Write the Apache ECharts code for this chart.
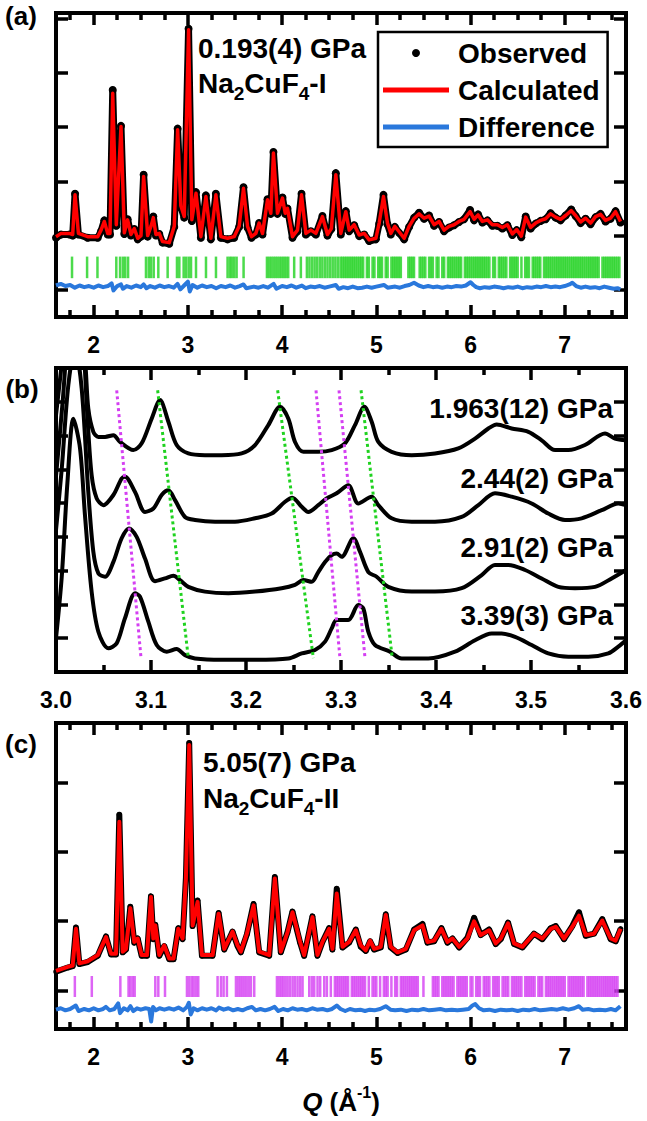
<!DOCTYPE html>
<html>
<head>
<meta charset="utf-8">
<script src="https://cdn.jsdelivr.net/npm/echarts@6/dist/echarts.min.js"></script>
<style>
html,body{margin:0;padding:0;background:#fff;}
#chart{width:647px;height:1121px;}
</style>
</head>
<body>
<div id="chart"></div>
<script>
const FONT = '"Liberation Sans", Arial, Helvetica, sans-serif';

// ---------- Panel (a): Na2CuF4-I, 0.193(4) GPa ----------
const qA = [
  1.600,1.654,1.742,1.777,1.802,1.838,1.936,2.043,2.078,2.113,
  2.149,2.173,2.202,2.240,2.290,2.325,2.360,2.396,2.431,2.467,
  2.502,2.530,2.573,2.608,2.633,2.661,2.696,2.731,2.802,2.855,
  2.891,2.925,2.961,3.007,3.042,3.086,3.138,3.191,3.244,3.297,
  3.350,3.421,3.491,3.544,3.590,3.633,3.675,3.721,3.756,3.792,
  3.845,3.880,3.908,3.951,4.004,4.033,4.057,4.110,4.163,4.206,
  4.252,4.305,4.358,4.428,4.481,4.523,4.570,4.623,4.676,4.712,
  4.765,4.818,4.871,4.924,4.995,5.030,5.076,5.118,5.154,5.196,
  5.242,5.295,5.348,5.401,5.454,5.507,5.560,5.613,5.666,5.719,
  5.772,5.825,5.878,5.931,5.995,6.038,6.080,6.126,6.179,6.232,
  6.285,6.338,6.391,6.444,6.490,6.539,6.585,6.638,6.691,6.744,
  6.797,6.850,6.903,6.956,7.009,7.069,7.115,7.168,7.221,7.274,
  7.327,7.380,7.433,7.486,7.539,7.592
];
const calcA = [
  0.98,1.04,1.04,1.02,1.75,1.04,0.98,0.98,1.10,1.26,
  1.04,1.04,3.62,1.20,3.01,1.05,1.29,1.02,1.13,0.95,
  1.00,2.09,1.00,1.17,1.33,1.02,1.04,0.89,0.87,1.17,
  2.95,1.55,1.35,4.79,1.29,1.78,0.98,1.72,0.95,1.75,
  0.98,0.95,0.98,1.17,1.87,1.17,0.98,1.04,1.23,1.04,
  1.66,1.41,2.52,1.41,1.69,1.41,1.50,0.98,1.10,1.75,
  1.04,1.10,1.04,1.35,1.02,1.13,2.12,1.04,1.44,1.10,
  1.20,1.01,1.04,0.92,0.95,1.23,1.72,1.23,1.04,1.17,
  1.07,0.95,1.17,1.32,1.40,1.32,1.36,1.20,1.26,1.10,
  1.17,1.20,1.26,1.30,1.44,1.30,1.38,1.26,1.29,1.20,
  1.20,1.15,1.20,1.03,1.11,0.99,1.34,1.15,1.23,1.28,
  1.31,1.40,1.34,1.30,1.37,1.46,1.37,1.25,1.32,1.23,
  1.35,1.39,1.28,1.32,1.44,1.26
];
const obsA = [
  0.96,1.02,1.02,1.00,1.77,1.02,0.96,0.96,1.08,1.28,
  1.02,1.02,3.68,1.18,3.02,1.03,1.30,1.00,1.12,0.93,
  0.98,2.12,0.98,1.16,1.35,1.00,1.03,0.87,0.85,1.16,
  2.97,1.53,1.33,4.81,1.27,1.80,0.96,1.74,0.93,1.77,
  0.96,0.93,0.96,1.16,1.89,1.15,0.96,1.02,1.23,1.02,
  1.67,1.40,2.54,1.40,1.70,1.40,1.50,0.96,1.08,1.77,
  1.02,1.08,1.02,1.36,1.00,1.12,2.15,1.02,1.45,1.08,
  1.19,0.99,1.02,0.90,0.93,1.22,1.75,1.21,1.02,1.16,
  1.05,0.93,1.16,1.33,1.42,1.31,1.37,1.18,1.25,1.08,
  1.15,1.19,1.25,1.30,1.47,1.28,1.39,1.24,1.28,1.18,
  1.18,1.13,1.19,1.01,1.10,0.97,1.35,1.13,1.22,1.27,
  1.30,1.41,1.33,1.28,1.37,1.48,1.36,1.23,1.31,1.21,
  1.34,1.40,1.26,1.31,1.45,1.24
];
const diffA = [
  [1.60,0.08],[1.65,0.11],[1.70,0.07],[1.75,0.09],[1.80,0.04],[1.85,0.08],[1.90,0.05],[1.95,0.07],[2.00,0.04],[2.05,0.08],
  [2.10,0.05],[2.15,0.07],[2.19,0.12],[2.21,-0.01],[2.25,0.07],[2.29,0.10],[2.31,0.02],[2.35,0.07],[2.40,0.04],[2.45,0.08],
  [2.50,0.05],[2.53,0.10],[2.56,0.03],[2.60,0.07],[2.65,0.04],[2.70,0.08],[2.75,0.05],[2.80,0.07],[2.85,0.04],[2.89,0.11],
  [2.92,0.01],[2.96,0.08],[3.00,0.15],[3.02,-0.03],[3.05,0.09],[3.10,0.04],[3.15,0.08],[3.20,0.05],[3.25,0.07],[3.30,0.03],
  [3.35,0.07],[3.40,0.05],[3.45,0.08],[3.50,0.04],[3.55,0.07],[3.59,0.10],[3.62,0.03],[3.70,0.06],[3.75,0.04],[3.80,0.07],
  [3.85,0.04],[3.91,0.11],[3.94,0.02],[4.00,0.07],[4.05,0.05],[4.10,0.08],[4.15,0.04],[4.21,0.08],[4.25,0.03],[4.30,0.06],
  [4.35,0.05],[4.40,0.07],[4.45,0.04],[4.50,0.06],[4.57,0.09],[4.60,0.02],[4.65,0.05],[4.70,0.03],[4.75,0.06],[4.80,0.03],
  [4.85,0.04],[4.90,0.06],[4.95,0.04],[5.00,0.06],[5.08,0.09],[5.12,0.04],[5.20,0.06],[5.25,0.04],[5.30,0.07],[5.35,0.09],
  [5.40,0.13],[5.45,0.08],[5.50,0.05],[5.55,0.07],[5.60,0.05],[5.65,0.06],[5.70,0.04],[5.75,0.06],[5.80,0.05],[5.85,0.07],
  [5.90,0.06],[5.95,0.08],[6.00,0.14],[6.03,0.09],[6.06,0.05],[6.10,0.03],[6.15,0.05],[6.20,0.04],[6.25,0.06],[6.30,0.05],
  [6.35,0.03],[6.40,0.05],[6.45,0.04],[6.50,0.06],[6.55,0.03],[6.60,0.05],[6.65,0.04],[6.70,0.06],[6.75,0.05],[6.80,0.07],
  [6.85,0.05],[6.90,0.06],[6.95,0.05],[7.00,0.07],[7.05,0.10],[7.08,0.13],[7.12,0.07],[7.17,0.04],[7.22,0.06],[7.27,0.04],
  [7.32,0.05],[7.37,0.03],[7.42,0.06],[7.47,0.04],[7.52,0.02],[7.56,0.03],[7.59,0.01]
];
const reflA = [
  1.77,1.93,2.04,2.24,2.28,2.31,2.335,2.365,2.555,2.584,2.608,2.637,2.686,2.785,2.884,2.909,2.955,2.98,
  3.008,3.033,3.086,3.192,3.298,3.421,3.446,3.467,3.492,3.517,3.591,
  3.839,3.862,3.885,3.908,3.93,3.952,3.975,3.998,4.02,4.042,4.065,4.128,4.199,
  4.263,4.29,4.318,4.345,4.372,4.4,4.427,4.455,4.482,4.51,4.537,4.565,4.592,4.62,
  4.64,4.66,4.68,4.70,4.72,4.74,4.76,4.78,4.80,4.82,4.84,4.86,4.90,4.92,4.96,4.98,
  5.02,5.04,5.06,5.10,5.12,5.16,5.18,5.20,5.22,5.24,5.26,5.34,5.36,5.38,5.40,5.46,5.48,5.50,5.52,
  5.56,5.58,5.60,5.64,5.66,5.70,5.72,5.76,5.78,5.80,5.82,5.84,5.86,5.88,5.90,5.94,5.96,5.98,
  6.00,6.02,6.04,6.06,6.08,6.10,6.12,6.14,6.16,6.18,6.20,6.24,6.26,6.30,6.32,6.34,6.36,6.38,
  6.42,6.44,6.46,6.48,6.50,6.54,6.58,6.60,6.62,6.66,6.68,6.70,6.72,6.74,6.78,6.80,6.82,6.84,
  6.86,6.88,6.90,6.92,6.94,6.96,6.98,7.00,7.02,7.04,7.06,7.08,7.10,7.12,7.14,7.16,7.18,7.20,
  7.22,7.24,7.26,7.28,7.30,7.32,7.34,7.36,7.40,7.42,7.44,7.46,7.48,7.50,7.52,7.54,7.56,7.58
];

// ---------- Panel (b): low-Q detail at four pressures (offset) ----------
const curveB1 = [
  [3.000,7.6],[3.008,9.6],[3.016,11.5],[3.024,11.0],[3.031,9.08],[3.034,7.80],[3.0393,7.11],[3.0446,6.96],[3.0516,6.96],[3.0604,7.01],
  [3.0674,6.81],[3.0814,6.57],[3.0902,6.77],[3.1007,7.50],[3.1095,8.05],[3.1183,7.41],[3.1270,6.72],[3.1393,6.47],[3.1568,6.42],[3.1744,6.42],
  [3.1954,6.47],[3.2095,6.72],[3.2235,7.31],[3.2358,7.85],[3.2446,7.50],[3.2516,6.81],[3.2604,6.52],[3.2761,6.52],[3.2902,6.57],[3.3042,6.77],
  [3.3147,7.31],[3.3246,7.85],[3.3323,7.41],[3.3393,6.81],[3.3533,6.52],[3.3744,6.42],[3.3989,6.47],[3.4235,6.62],[3.4411,6.91],[3.4551,7.21],
  [3.4639,7.33],[3.4796,7.21],[3.4972,7.11],[3.5112,6.86],[3.5253,6.57],[3.5393,6.57],[3.5568,6.72],[3.5779,7.06],[3.5884,6.91],[3.600,6.86]
];
const curveB2 = [
  [3.000,5.8],[3.007,8.0],[3.014,10.5],[3.021,11.5],[3.028,10.0],[3.033,7.6],[3.0375,5.83],[3.0428,5.14],[3.0498,4.94],[3.0604,5.24],
  [3.0691,5.73],[3.0726,5.78],[3.0832,5.33],[3.0937,4.74],[3.1025,4.84],[3.1112,5.24],[3.1183,5.38],[3.1253,5.09],[3.1358,4.59],[3.1463,4.50],
  [3.1674,4.45],[3.1884,4.45],[3.2095,4.55],[3.2270,4.69],[3.2411,5.04],[3.2488,5.16],[3.2586,4.89],[3.2656,4.74],[3.2761,4.94],[3.2849,5.14],
  [3.2954,5.29],[3.3077,5.53],[3.3182,4.99],[3.3323,5.19],[3.3393,4.94],[3.3533,4.55],[3.3744,4.45],[3.3989,4.45],[3.4270,4.59],[3.4446,4.94],
  [3.4621,5.29],[3.4796,5.19],[3.5007,4.99],[3.5182,4.69],[3.5358,4.50],[3.5533,4.55],[3.5744,4.79],[3.5919,4.99],[3.600,4.94]
];
const curveB3 = [
  [3.000,4.2],[3.006,6.0],[3.013,8.5],[3.020,9.6],[3.027,8.4],[3.0340,5.33],[3.0393,3.56],[3.0446,2.92],[3.0516,2.82],[3.0604,3.26],
  [3.0691,3.96],[3.0768,4.25],[3.0849,4.00],[3.0937,3.36],[3.1042,2.69],[3.1147,2.77],[3.1235,2.85],[3.1305,2.72],[3.1393,2.52],[3.1568,2.38],
  [3.1814,2.33],[3.2095,2.38],[3.2375,2.48],[3.2516,2.58],[3.2604,2.72],[3.2691,2.67],[3.2761,2.96],[3.2832,3.26],[3.2902,3.46],[3.2954,3.51],
  [3.3007,3.41],[3.3130,3.96],[3.3200,3.56],[3.3288,2.96],[3.3375,2.82],[3.3498,2.52],[3.3744,2.38],[3.3989,2.38],[3.4270,2.48],[3.4481,2.87],
  [3.4621,3.17],[3.4761,3.17],[3.4937,3.02],[3.5112,2.77],[3.5288,2.52],[3.5463,2.48],[3.5674,2.52],[3.5849,2.77],[3.600,3.02]
];
const curveB4 = [
  [3.000,1.0],[3.006,2.8],[3.012,5.6],[3.0183,7.50],[3.0253,6.62],[3.0305,4.64],[3.0375,2.38],[3.0446,1.19],[3.0551,0.70],[3.0639,0.85],
  [3.0726,1.59],[3.0832,2.33],[3.0884,2.23],[3.0972,1.49],[3.1060,0.80],[3.1165,0.60],[3.1270,0.68],[3.1358,0.50],[3.1463,0.40],[3.1744,0.36],
  [3.2095,0.36],[3.2446,0.40],[3.2586,0.55],[3.2726,0.65],[3.2832,0.90],[3.2902,1.29],[3.2954,1.54],[3.3077,1.54],[3.3182,1.98],[3.3235,1.88],
  [3.3288,1.19],[3.3358,0.80],[3.3516,0.60],[3.3639,0.40],[3.3919,0.40],[3.4200,0.60],[3.4411,0.94],[3.4586,1.14],[3.4691,1.14],[3.4832,1.04],
  [3.5007,0.80],[3.5182,0.55],[3.5393,0.45],[3.5603,0.45],[3.5814,0.55],[3.5919,0.75],[3.600,0.94]
];
const pressuresB = ['1.963(12) GPa', '2.44(2) GPa', '2.91(2) GPa', '3.39(3) GPa'];
// peak-tracking guides: [start, end] in (Q, offset intensity)
const guidesMagenta = [
  [[3.0639,8.34],[3.0895,0.41]],
  [[3.2737,8.34],[3.2989,0.41]],
  [[3.2979,8.34],[3.3253,0.41]]
];
const guidesGreen = [
  [[3.1070,8.34],[3.1393,0.41]],
  [[3.2333,8.34],[3.2709,0.41]],
  [[3.3211,8.34],[3.3540,0.41]]
];

// ---------- Panel (c): Na2CuF4-II, 5.05(7) GPa ----------
const qC = [
  1.600,1.724,1.777,1.812,1.848,1.936,2.043,2.131,2.184,2.237,
  2.272,2.308,2.343,2.389,2.431,2.467,2.509,2.566,2.608,2.633,
  2.654,2.696,2.749,2.802,2.848,2.898,2.944,2.979,3.014,3.050,
  3.103,3.149,3.262,3.326,3.386,3.474,3.527,3.562,3.626,3.697,
  3.757,3.863,3.923,3.986,4.057,4.110,4.156,4.191,4.234,4.322,
  4.375,4.428,4.499,4.534,4.580,4.641,4.711,4.782,4.835,4.888,
  4.934,4.977,5.047,5.100,5.153,5.225,5.313,5.401,5.490,5.543,
  5.613,5.691,5.755,5.808,5.879,5.967,6.038,6.108,6.197,6.267,
  6.320,6.398,6.462,6.550,6.674,6.762,6.851,6.904,6.992,7.080,
  7.151,7.222,7.310,7.398,7.487,7.540,7.593
];
const calcC = [
  0.28,0.34,0.36,0.89,0.39,0.42,0.51,0.77,0.53,0.53,
  2.44,0.56,0.60,1.19,0.70,0.75,0.51,0.51,1.35,0.75,
  0.94,0.51,0.65,0.46,0.46,0.89,0.75,1.62,3.55,0.94,
  1.28,0.51,0.51,1.11,0.60,0.85,0.65,0.56,0.82,1.23,
  0.56,0.51,1.62,0.56,0.84,1.13,0.89,0.70,0.51,1.06,
  0.51,0.70,0.89,0.60,1.40,0.63,0.70,0.87,0.65,0.58,
  0.72,0.60,0.63,1.09,0.63,0.55,0.60,0.87,0.94,0.70,
  0.72,0.89,0.70,0.75,0.63,0.75,1.00,0.80,0.87,0.68,
  0.75,0.97,0.68,0.63,0.82,0.75,0.89,0.92,0.75,0.92,
  1.08,0.80,0.82,1.01,0.75,0.72,0.89
];
const obsC = [
  0.27,0.33,0.35,0.91,0.38,0.41,0.50,0.78,0.52,0.52,
  2.54,0.55,0.59,1.21,0.69,0.75,0.50,0.50,1.36,0.74,
  0.95,0.50,0.64,0.45,0.45,0.90,0.74,1.63,3.58,0.93,
  1.30,0.50,0.50,1.12,0.59,0.85,0.64,0.55,0.81,1.25,
  0.55,0.50,1.64,0.55,0.84,1.14,0.88,0.69,0.50,1.07,
  0.50,0.70,0.90,0.59,1.47,0.62,0.69,0.88,0.63,0.57,
  0.71,0.59,0.62,1.10,0.62,0.54,0.59,0.88,0.96,0.69,
  0.71,0.90,0.69,0.75,0.62,0.76,1.05,0.80,0.88,0.67,
  0.74,0.98,0.67,0.62,0.82,0.74,0.90,0.93,0.74,0.93,
  1.13,0.79,0.82,1.03,0.74,0.71,0.89
];
const diffC = [
  [1.60,-0.28],[1.65,-0.26],[1.70,-0.29],[1.75,-0.27],[1.81,-0.22],[1.84,-0.30],[1.90,-0.27],[1.95,-0.29],[2.00,-0.26],[2.05,-0.29],
  [2.10,-0.27],[2.13,-0.24],[2.17,-0.29],[2.22,-0.27],[2.26,-0.19],[2.28,-0.33],[2.32,-0.26],[2.36,-0.29],[2.39,-0.23],[2.42,-0.30],
  [2.46,-0.26],[2.50,-0.28],[2.55,-0.26],[2.59,-0.27],[2.61,-0.45],[2.63,-0.24],[2.66,-0.29],[2.70,-0.26],[2.75,-0.28],[2.80,-0.26],
  [2.85,-0.28],[2.90,-0.25],[2.95,-0.29],[2.99,-0.24],[3.01,-0.18],[3.03,-0.35],[3.06,-0.26],[3.10,-0.29],[3.15,-0.26],[3.20,-0.28],
  [3.25,-0.26],[3.30,-0.29],[3.33,-0.25],[3.38,-0.28],[3.43,-0.26],[3.48,-0.29],[3.53,-0.27],[3.58,-0.29],[3.63,-0.26],[3.68,-0.24],
  [3.72,-0.29],[3.77,-0.27],[3.82,-0.29],[3.87,-0.27],[3.92,-0.24],[3.96,-0.30],[4.01,-0.27],[4.06,-0.29],[4.11,-0.26],[4.16,-0.28],
  [4.21,-0.27],[4.26,-0.29],[4.32,-0.26],[4.37,-0.28],[4.43,-0.27],[4.48,-0.29],[4.53,-0.27],[4.58,-0.22],[4.62,-0.27],[4.67,-0.30],
  [4.72,-0.27],[4.78,-0.29],[4.83,-0.28],[4.88,-0.30],[4.93,-0.28],[4.98,-0.29],[5.04,-0.27],[5.10,-0.23],[5.15,-0.28],[5.20,-0.29],
  [5.26,-0.28],[5.32,-0.30],[5.38,-0.28],[5.44,-0.29],[5.50,-0.27],[5.56,-0.29],[5.62,-0.28],[5.68,-0.27],[5.74,-0.29],[5.80,-0.28],
  [5.86,-0.29],[5.92,-0.28],[5.98,-0.27],[6.02,-0.22],[6.05,-0.20],[6.09,-0.26],[6.14,-0.29],[6.20,-0.28],[6.26,-0.30],[6.32,-0.28],
  [6.38,-0.29],[6.44,-0.28],[6.50,-0.30],[6.56,-0.28],[6.62,-0.29],[6.68,-0.27],[6.74,-0.29],[6.80,-0.28],[6.86,-0.27],[6.92,-0.28],
  [6.98,-0.26],[7.04,-0.28],[7.10,-0.26],[7.15,-0.23],[7.19,-0.28],[7.25,-0.27],[7.31,-0.29],[7.37,-0.28],[7.43,-0.29],[7.49,-0.27],
  [7.54,-0.29],[7.59,-0.23]
];
const reflC = [
  1.80,1.98,2.283,2.37,2.39,2.414,2.435,2.654,2.686,2.757,2.99,3.015,3.04,3.061,3.086,3.11,
  3.315,3.351,3.379,3.414,3.51,3.534,3.556,3.578,3.60,3.622,3.645,3.669,3.704,
  3.945,3.968,3.99,4.012,4.035,4.058,4.083,4.111,4.136,4.164,4.192,4.217,
  4.288,4.316,4.341,4.376,4.404,4.447,4.475,4.517,
  4.56,4.58,4.60,4.62,4.64,4.66,4.68,4.70,4.74,4.76,4.78,4.80,4.82,4.84,4.86,4.88,4.92,4.96,4.98,
  5.00,5.04,5.08,5.10,5.12,5.16,5.20,5.22,5.26,5.28,5.30,5.32,5.34,5.36,5.38,5.40,5.42,5.44,5.50,
  5.60,5.62,5.64,5.66,5.70,5.72,5.74,5.76,5.78,5.80,5.82,5.86,5.88,5.90,5.92,5.94,5.96,
  6.00,6.02,6.06,6.08,6.10,6.14,6.16,6.18,6.20,6.24,6.26,6.28,6.30,6.34,6.36,6.38,6.40,
  6.44,6.46,6.48,6.50,6.52,6.54,6.58,6.60,6.62,6.64,6.66,6.68,6.72,6.74,6.76,6.80,6.82,6.84,
  6.86,6.88,6.90,6.92,6.94,6.96,6.98,7.00,7.04,7.06,7.08,7.10,7.12,7.14,7.16,7.18,7.20,
  7.24,7.26,7.28,7.30,7.32,7.34,7.36,7.38,7.40,7.42,7.44,7.46,7.48,7.50,7.52,7.54,7.56
];

// ---------- Axis tick positions ----------
const qMajor = [2, 3, 4, 5, 6, 7];
const qMinor = [1.75, 2.25, 2.5, 2.75, 3.25, 3.5, 3.75, 4.25, 4.5, 4.75, 5.25, 5.5, 5.75, 6.25, 6.5, 6.75, 7.25, 7.5];
const qMajorB = [3.0, 3.1, 3.2, 3.3, 3.4, 3.5, 3.6];
const qMinorB = [3.05, 3.15, 3.25, 3.35, 3.45, 3.55];
const yMajorA = [0, 1, 2, 3, 4, 5];
const yMajorB = [0, 1, 2, 3, 4, 5, 6, 7, 8, 9];
const yMajorC = [0, 1, 2, 3];

const COLORS = {
  obs: '#000000', calc: '#ff0000', diff: '#2a78dc',
  tickI: '#1fd21f', tickII: '#d43ff2', curve: '#000000'
};

const zip = (xs, ys) => xs.map((x, i) => [x, ys[i]]);

function tickAxis(gridIndex, min, max, position, values, len, withLabels, fmt) {
  return {
    type: 'value', gridIndex, min, max, position, offset: 0,
    axisLine: { show: false, onZero: false },
    splitLine: { show: false },
    minorTick: { show: false },
    axisTick: { show: true, inside: true, length: len, customValues: values,
                lineStyle: { color: '#000', width: 3.5 } },
    axisLabel: withLabels ? {
      show: true, customValues: values, margin: 16, formatter: fmt,
      color: '#000', fontSize: 23, fontWeight: 'bold', fontFamily: FONT
    } : { show: false }
  };
}

const xAxes = [];
const yAxes = [];
function addPanelAxes(g, xmin, xmax, xMaj, xMin, xfmt, ymin, ymax, yMaj) {
  xAxes.push(tickAxis(g, xmin, xmax, 'bottom', xMaj, 12, true, xfmt));
  xAxes.push(tickAxis(g, xmin, xmax, 'bottom', xMin, 7, false));
  xAxes.push(tickAxis(g, xmin, xmax, 'top', xMaj, 12, false));
  xAxes.push(tickAxis(g, xmin, xmax, 'top', xMin, 7, false));
  yAxes.push(tickAxis(g, ymin, ymax, 'left', yMaj, 12, false));
  yAxes.push(tickAxis(g, ymin, ymax, 'right', yMaj, 12, false));
}
addPanelAxes(0, 1.6, 7.65, qMajor, qMinor, v => String(v), -0.5, 5.1, yMajorA);
addPanelAxes(1, 3.0, 3.6, qMajorB, qMinorB, v => v.toFixed(1), 0, 9, yMajorB);
addPanelAxes(2, 1.6, 7.65, qMajor, qMinor, v => String(v), -0.56, 3.87, yMajorC);

function refinementSeries(xi, yi, q, obs, calc, diff, refl, reflColor, reflY, reflH, obsW, obsSym, calcW) {
  return [
    { name: 'Observed', type: 'line', xAxisIndex: xi, yAxisIndex: yi, data: zip(q, obs),
      symbol: 'circle', symbolSize: obsSym, showSymbol: true, showAllSymbol: true,
      itemStyle: { color: COLORS.obs }, lineStyle: { color: COLORS.obs, width: obsW, join: 'round' },
      z: 2, animation: false, silent: true },
    { name: 'Calculated', type: 'line', xAxisIndex: xi, yAxisIndex: yi, data: zip(q, calc),
      symbol: 'none', itemStyle: { color: COLORS.calc },
      lineStyle: { color: COLORS.calc, width: calcW, join: 'round' }, z: 3, animation: false, silent: true },
    { name: 'Difference', type: 'line', xAxisIndex: xi, yAxisIndex: yi, data: diff,
      symbol: 'none', itemStyle: { color: COLORS.diff },
      lineStyle: { color: COLORS.diff, width: 4, join: 'round' }, z: 3, animation: false, silent: true },
    { name: 'Reflections', type: 'scatter', xAxisIndex: xi, yAxisIndex: yi,
      data: refl.map(v => [v, reflY]), symbol: 'rect', symbolSize: [2.5, reflH],
      itemStyle: { color: reflColor }, z: 2, animation: false, silent: true }
  ];
}

const series = [];
series.push(...refinementSeries(0, 0, qA, obsA, calcA, diffA, reflA, COLORS.tickI, 0.414, 21.6, 7, 8, 3.5));
series.push(...refinementSeries(8, 4, qC, obsC, calcC, diffC, reflC, COLORS.tickII, 0.055, 21, 6, 5.5, 4));

[curveB1, curveB2, curveB3, curveB4].forEach((c, i) => {
  series.push({ name: pressuresB[i], type: 'line', xAxisIndex: 4, yAxisIndex: 2, data: c,
    symbol: 'none', smooth: 0.3, lineStyle: { color: COLORS.curve, width: 4, join: 'round' },
    z: 2, animation: false, silent: true });
});
guidesMagenta.forEach(g => series.push({ type: 'line', xAxisIndex: 4, yAxisIndex: 2, data: g, symbol: 'none',
  lineStyle: { color: COLORS.tickII, width: 3, type: [3, 3] }, z: 4, animation: false, silent: true }));
guidesGreen.forEach(g => series.push({ type: 'line', xAxisIndex: 4, yAxisIndex: 2, data: g, symbol: 'none',
  lineStyle: { color: COLORS.tickI, width: 3, type: [3, 3] }, z: 4, animation: false, silent: true }));

const big = { fontSize: 28, fontWeight: 'bold', fontFamily: FONT };
const formulaRich = {
  n: Object.assign({ lineHeight: 40 }, big),
  s: { fontSize: 19, fontWeight: 'bold', fontFamily: FONT, lineHeight: 18, verticalAlign: 'bottom' }
};
function label(x, y, text, align, size) {
  return { type: 'text', x, y, silent: true, z: 10,
    style: { text, fill: '#000', font: 'bold ' + (size || 28) + 'px ' + FONT,
             textAlign: align || 'left', textVerticalAlign: 'middle' } };
}

const graphic = [
  label(21, 16, '(a)', 'center', 26),
  label(22, 389, '(b)', 'center', 26),
  label(21, 744, '(c)', 'center', 26),
  label(198, 48, '0.193(4) GPa'),
  { type: 'text', x: 198, y: 83, silent: true, z: 10,
    style: { text: '{n|Na}{s|2}{n|CuF}{s|4}{n|-I}', rich: formulaRich, fill: '#000',
             textAlign: 'left', textVerticalAlign: 'middle' } },
  label(203, 762, '5.05(7) GPa'),
  { type: 'text', x: 203, y: 798, silent: true, z: 10,
    style: { text: '{n|Na}{s|2}{n|CuF}{s|4}{n|-II}', rich: formulaRich, fill: '#000',
             textAlign: 'left', textVerticalAlign: 'middle' } },
  label(613, 408, pressuresB[0], 'right'),
  label(613, 478, pressuresB[1], 'right'),
  label(613, 547, pressuresB[2], 'right'),
  label(613, 615, pressuresB[3], 'right'),
  { type: 'text', x: 341, y: 1102, silent: true, z: 10,
    style: { text: '{q|Q }{t|(Å}{u|-1}{t|)}', fill: '#000', textAlign: 'center', textVerticalAlign: 'middle',
      rich: {
        q: { fontSize: 26, fontWeight: 'bold', fontStyle: 'italic', fontFamily: FONT, lineHeight: 36 },
        t: { fontSize: 26, fontWeight: 'bold', fontFamily: FONT, lineHeight: 36 },
        u: { fontSize: 16, fontWeight: 'bold', fontFamily: FONT, lineHeight: 24, verticalAlign: 'top' }
      } } }
];

const lineIcon = 'path://M0,0H66V5H0Z';
const option = {
  animation: false,
  backgroundColor: '#ffffff',
  grid: [
    { left: 56, right: 21, top: 13, height: 304, show: true, borderColor: '#000', borderWidth: 4, backgroundColor: 'transparent' },
    { left: 56, right: 21, top: 368, height: 304, show: true, borderColor: '#000', borderWidth: 4, backgroundColor: 'transparent' },
    { left: 56, right: 21, top: 723, height: 306, show: true, borderColor: '#000', borderWidth: 4, backgroundColor: 'transparent' }
  ],
  xAxis: xAxes,
  yAxis: yAxes,
  legend: {
    orient: 'vertical', left: 378, top: 32, z: 10,
    itemWidth: 66, itemHeight: 8, itemGap: 5,
    padding: [5, 8, 4, 5],
    borderColor: '#000', borderWidth: 2.5, backgroundColor: '#fff',
    selectedMode: false,
    textStyle: { fontSize: 28, fontWeight: 'bold', fontFamily: FONT, color: '#000', lineHeight: 32, padding: [0, 0, 0, 4] },
    data: [
      { name: 'Observed', icon: 'circle' },
      { name: 'Calculated', icon: lineIcon },
      { name: 'Difference', icon: lineIcon }
    ]
  },
  graphic,
  series
};

const chart = echarts.init(document.getElementById('chart'), null, { renderer: 'svg', width: 647, height: 1121 });
chart.setOption(option);
</script>
</body>
</html>
